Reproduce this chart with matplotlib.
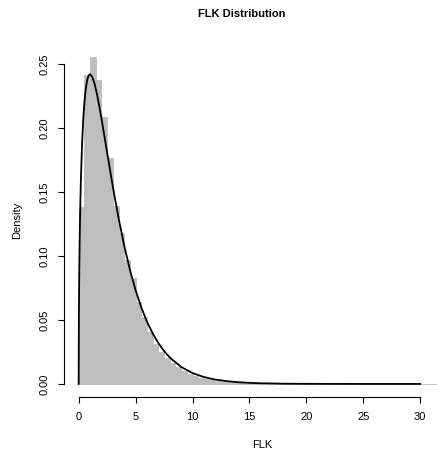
import numpy as np
import matplotlib.pyplot as plt

plt.rcParams['font.family'] = ['Liberation Sans', 'DejaVu Sans']

# histogram of FLK values, bins of width 0.5 starting at 0
bin_width = 0.5
hist_density = [0.1385, 0.2416, 0.2557, 0.2375, 0.2088, 0.1763, 0.139, 0.1177,
                0.097, 0.0826, 0.064, 0.052, 0.0405, 0.0315, 0.0248, 0.020,
                0.016, 0.013, 0.0104, 0.0078, 0.0062, 0.0049, 0.0039, 0.0031,
                0.0024, 0.0019, 0.0015, 0.0012, 0.0009, 0.0007, 0.00055, 0.00043,
                0.00033, 0.00026, 0.0002, 0.00016, 0.00012, 0.0001, 0.00008, 0.00006,
                0.00005, 0.00004, 0.00003, 0.00002, 0.00002, 0.00001, 0.00001, 0.0,
                0.0, 0.0, 0.0, 0.0, 0.0, 0.0, 0.0, 0.0,
                0.0, 0.0, 0.0, 0.0, 0.0, 0.0, 0.0]

# fitted density curve
curve_x = [0, 0.02, 0.05, 0.1, 0.15, 0.2, 0.3, 0.4, 0.5, 0.6, 0.7, 0.8, 0.9, 1.0,
           1.2, 1.4, 1.6, 1.8, 2.0, 2.5, 3.0, 3.5, 4.0, 4.5, 5.0, 5.5, 6.0, 6.5,
           7.0, 7.5, 8.0, 9.0, 10, 11, 12, 13, 14, 15, 16, 18, 20, 25, 30]
curve_y = [0.0, 0.0559, 0.087, 0.12, 0.1433, 0.1614, 0.1881, 0.2066, 0.2197, 0.2289,
           0.2352, 0.2392, 0.2413, 0.242, 0.2398, 0.2344, 0.2267, 0.2176, 0.2076,
           0.1807, 0.1542, 0.1297, 0.108, 0.0892, 0.0732, 0.0598, 0.0486, 0.0395,
           0.0319, 0.0257, 0.0207, 0.0133, 0.0085, 0.0054, 0.0034, 0.0022, 0.00136,
           0.00085, 0.00053, 0.0002, 0.00008, 0.000007, 0.0]

x_ticks = [0, 5, 10, 15, 20, 25, 30]
y_ticks = [0.00, 0.05, 0.10, 0.15, 0.20, 0.25]

W, H = 437, 458
fig = plt.figure(figsize=(W / 100, H / 100), dpi=100)
# plot region in pixels: left 64, right ~460 (past the edge), top 43.5, bottom 397
ax = fig.add_axes([64 / W, 1 - 397 / H, (460 - 64) / W, (397 - 43.5) / H])

left_edges = np.arange(len(hist_density)) * bin_width
ax.bar(left_edges, hist_density, width=bin_width, align='edge',
       color='#BEBEBE', edgecolor='#BEBEBE', linewidth=0.6)
ax.plot(curve_x, curve_y, color='black', lw=1.3)

ax.set_xlim(-1.29, 33.5)
ax.set_ylim(-0.0102, 0.266)

for s in ['top', 'right']:
    ax.spines[s].set_visible(False)
ax.spines['bottom'].set_bounds(0, 30)
ax.spines['left'].set_bounds(0, 0.25)
for s in ['bottom', 'left']:
    ax.spines[s].set_linewidth(0.8)

ax.set_xticks(x_ticks)
ax.set_xticklabels([str(t) for t in x_ticks])
ax.set_yticks(y_ticks)
ax.set_yticklabels(['%.2f' % t for t in y_ticks], rotation=90, va='center')
ax.tick_params(axis='both', direction='out', length=4.5, width=0.8, labelsize=8)
ax.tick_params(axis='x', pad=6)
ax.tick_params(axis='y', pad=5.5)

fig.text(262 / W, 1 - 445 / H, 'FLK', ha='center', va='center', fontsize=8)
fig.text(17 / W, 1 - 220 / H, 'Density', ha='center', va='center', fontsize=8,
         rotation=90)
fig.text(242 / W, 1 - 14 / H, 'FLK Distribution', ha='center', va='center',
         fontsize=8, fontweight='bold')

fig.savefig('out.png', dpi=100)
